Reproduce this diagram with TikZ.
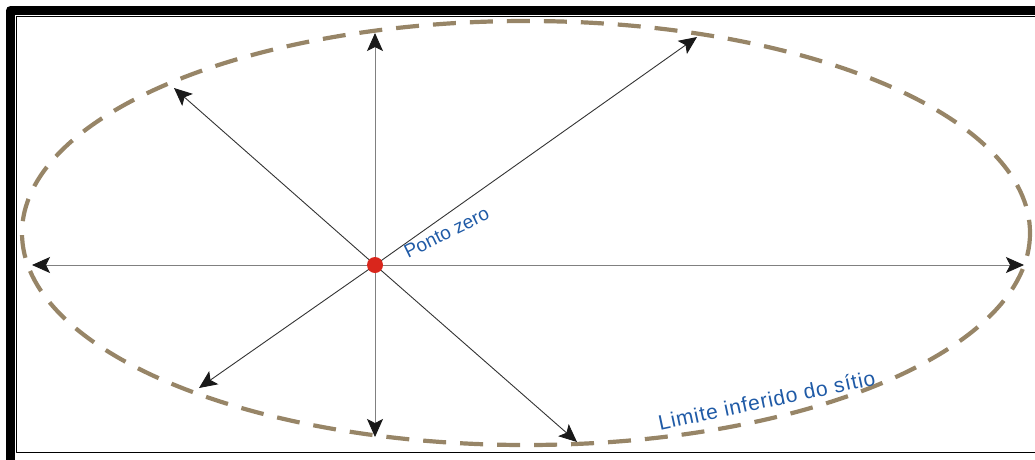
\documentclass[tikz,border=0pt]{standalone}
\usepackage{fontspec}
\setmainfont{Liberation Sans}
\usetikzlibrary{arrows.meta}

\definecolor{limitebrown}{HTML}{978567}
\definecolor{labelblue}{HTML}{1F5AA6}
\definecolor{zerored}{HTML}{D9261C}

\begin{document}
\begin{tikzpicture}[
		x=1pt, y=-1pt,
		every node/.style={font=\fontsize{19}{22}\selectfont, text=labelblue, inner sep=0pt},
		raio/.style={line width=0.9pt, -{Stealth[length=18pt, width=16pt, inset=4pt, color=black!90]}},
		eixo/.style={raio, draw=black!50},
		diag/.style={raio, draw=black!80},
		line cap=butt,
		line join=round
		]
		
		\useasboundingbox (0,0) rectangle (1035,459);
		\clip (0,0) rectangle (1035,459);
		
		% Frame
		\draw[line width=9pt] (10.5,10.5) rectangle (1050,464);
		\draw[line width=1.3pt] (16.7,16.7) rectangle (1050,452.3);
		
		% Site limit
		\draw[limitebrown, line width=4.2pt, dash pattern=on 23pt off 14pt]
		(526,233) ellipse [x radius=504, y radius=212];
		
		\coordinate (zero) at (375,265);
		\coordinate (w) at (32,265);
		\coordinate (e) at (1024,265);
		\coordinate (n) at (375,33);
		\coordinate (s) at (375,437);
		\coordinate (nw) at (174,88);
		\coordinate (ne) at (697,37);
		\coordinate (sw) at (199,388);
		\coordinate (se) at (577,442);
		
		\draw[eixo] (zero) -- (w);
		\draw[eixo] (zero) -- (e);
		\draw[eixo] (zero) -- (n);
		\draw[eixo] (zero) -- (s);
		\draw[diag] (zero) -- (nw);
		\draw[diag] (zero) -- (ne);
		\draw[diag] (zero) -- (sw);
		\draw[diag] (zero) -- (se);
		
		\fill[zerored] (zero) circle[radius=8];
		
		\node[anchor=south west, rotate=26] (pz) at (408,259) {Ponto zero};
		\node[anchor=south west, rotate=12, font=\fontsize{21}{25}\selectfont\addfontfeature{LetterSpace=4}] (lim) at (660,431) {Limite inferido do sítio};
		
	\end{tikzpicture}
\end{document}
